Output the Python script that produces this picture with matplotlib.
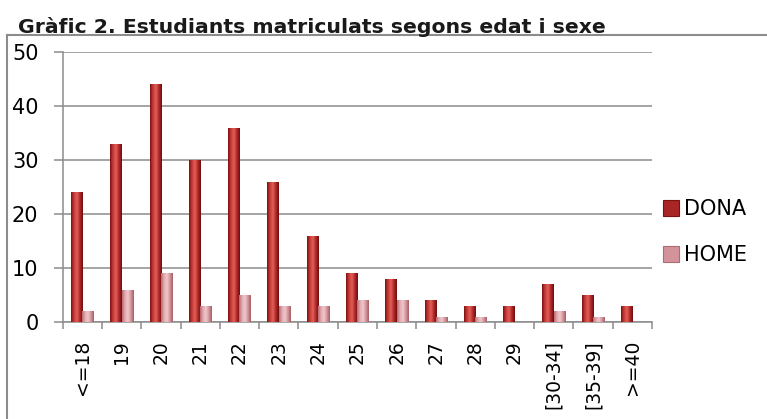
import matplotlib
matplotlib.use("Agg")
import matplotlib.pyplot as plt
import numpy as np
from matplotlib.patches import Patch
from matplotlib.lines import Line2D
from matplotlib.colors import LinearSegmentedColormap

categories = ["<=18", "19", "20", "21", "22", "23", "24", "25", "26", "27",
              "28", "29", "[30-34]", "[35-39]", ">=40"]
dona = [24, 33, 44, 30, 36, 26, 16, 9, 8, 4, 3, 3, 7, 5, 3]
home = [2, 6, 9, 3, 5, 3, 3, 4, 4, 1, 1, 0, 2, 1, 0]
series_names = ["DONA", "HOME"]
title = "Gràfic 2. Estudiants matriculats segons edat i sexe"

W, H = 767, 419
fig = plt.figure(figsize=(W / 100, H / 100), dpi=100)
fig.patch.set_facecolor("white")

ax = fig.add_axes([62.7 / W, 1 - 322 / H, (652 - 62.7) / W, (322 - 52) / H])
ax.set_facecolor("white")

grid_c = "#8c8c8c"
x = np.arange(len(categories))
bw = 0.29

dona_col = "#b02a2a"
home_col = "#d4939a"
cm_dona = LinearSegmentedColormap.from_list("d", ["#7a1212", "#c83a36", "#e0605a", "#b02828", "#6e0e0e"])
cm_home = LinearSegmentedColormap.from_list("h", ["#b86a72", "#e2aab0", "#f0c8cc", "#d2959b", "#a85e66"])

grad = np.linspace(0, 1, 64).reshape(1, -1)

def draw_bars(xs, vals, cmap, col):
    bars = ax.bar(xs, vals, width=bw, color=col, edgecolor="none", zorder=3)
    for b in bars:
        if b.get_height() <= 0:
            continue
        x0, y0 = b.get_x(), b.get_y()
        im = ax.imshow(grad, cmap=cmap, aspect="auto",
                       extent=(x0, x0 + b.get_width(), y0, y0 + b.get_height()),
                       zorder=4, interpolation="bilinear")
        im.set_clip_path(b)
    return bars

draw_bars(x - bw / 2, dona, cm_dona, dona_col)
draw_bars(x + bw / 2, home, cm_home, home_col)

ax.set_xlim(-0.5, len(categories) - 0.5)
ax.set_ylim(0, 50)
ax.set_yticks(np.arange(0, 51, 10))
ax.yaxis.grid(True, color=grid_c, linewidth=1.1, zorder=0)
ax.set_axisbelow(True)

ax.set_xticks(x)
ax.set_xticklabels(categories, rotation=90, fontsize=13.5, family="DejaVu Sans")
ax.set_xticks(np.arange(-0.5, len(categories), 1), minor=True)
ax.tick_params(axis="x", which="major", length=0, pad=13)
ax.tick_params(axis="x", which="minor", length=5, width=1.1, color=grid_c, direction="out")
ax.tick_params(axis="y", length=6.5, width=1.1, color=grid_c, labelsize=15, pad=11)

for s in ["top", "right"]:
    ax.spines[s].set_visible(False)
for s in ["left", "bottom"]:
    ax.spines[s].set_color(grid_c)
    ax.spines[s].set_linewidth(1.1)

# Legend
handles = [Patch(facecolor="#a82626", edgecolor="#7a1212", linewidth=0.8),
           Patch(facecolor="#d4939a", edgecolor="#b06a72", linewidth=0.8)]
fig.legend(handles, series_names, loc="center left",
           bbox_to_anchor=(663 / W, 1 - 232 / H), frameon=False,
           fontsize=15, handlelength=0.78, handleheight=0.78,
           handletextpad=0.25, labelspacing=1.25, borderpad=0, borderaxespad=0)

# Outer box (extends beyond the figure to the right and bottom)
fig.add_artist(Line2D([7 / W, 1.0], [1 - 35 / H, 1 - 35 / H], transform=fig.transFigure,
                      color=grid_c, linewidth=1.5))
fig.add_artist(Line2D([7 / W, 7 / W], [0.0, 1 - 35 / H], transform=fig.transFigure,
                      color=grid_c, linewidth=1.5))

fig.text(18 / W, 1 - 33 / H, title, fontsize=14.7, fontweight="bold",
         ha="left", va="baseline", color="#1a1a1a")

fig.savefig("out.png", dpi=100, facecolor="white")
